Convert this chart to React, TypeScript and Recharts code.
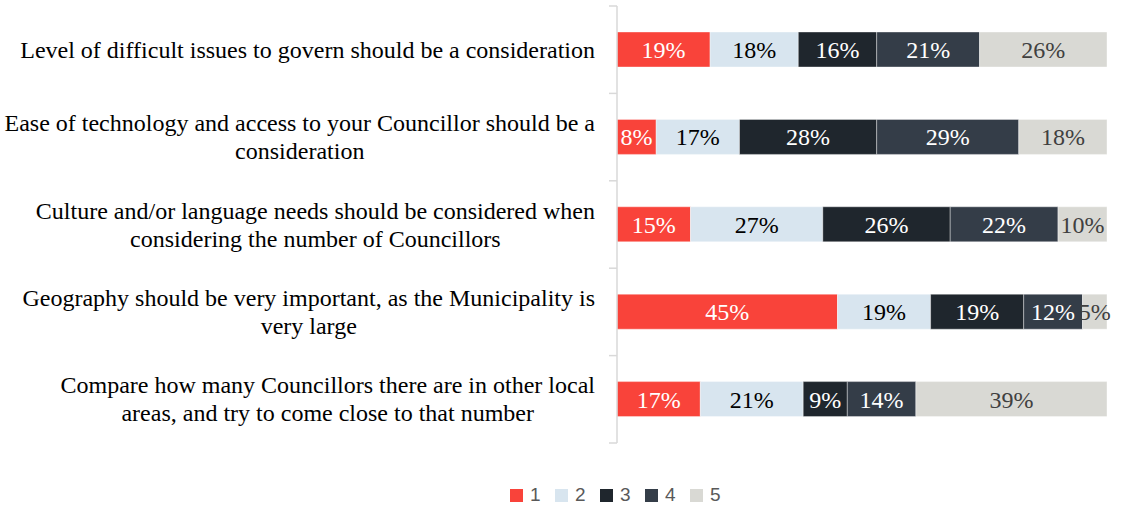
import React from 'react';
import { BarChart, Bar, XAxis, YAxis, LabelList } from 'recharts';

const categories = [
  'Level of difficult issues to govern should be a consideration',
  'Ease of technology and access to your Councillor should be a\nconsideration',
  'Culture and/or language needs should be considered when\nconsidering the number of Councillors',
  'Geography should be very important, as the Municipality is\nvery large',
  'Compare how many Councillors there are in other local\nareas, and try to come close to that number',
];
const series1 = [19, 8, 15, 45, 17];
const series2 = [18, 17, 27, 19, 21];
const series3 = [16, 28, 26, 19, 9];
const series4 = [21, 29, 22, 12, 14];
const series5 = [26, 18, 10, 5, 39];
const seriesNames = ['1', '2', '3', '4', '5'];
const seriesKeys = ['s1', 's2', 's3', 's4', 's5'];
const seriesColors = ['#F9433A', '#D8E5EF', '#1F262D', '#343D48', '#D9D9D4'];
const labelColors = ['#FFFFFF', '#000000', '#FFFFFF', '#FFFFFF', '#404040'];

const data = categories.map((name, i) => ({
  name,
  s1: series1[i],
  s2: series2[i],
  s3: series3[i],
  s4: series4[i],
  s5: series5[i],
}));

const W = 1123;
const H = 505;
const TOP = 6;
const BOTTOM = 443;
const AXIS_X = 617;
const RIGHT = 1107;
const BAND = (BOTTOM - TOP) / categories.length;
const LABEL_RIGHT = 595;
const LINE_H = 28;
const CAT_FONT_SIZE = 24;
const SERIF = '"Liberation Serif", "Times New Roman", serif';

let measureCtx: CanvasRenderingContext2D | null = null;
function measureText(text: string, size: number): number {
  if (!measureCtx) {
    const c = document.createElement('canvas');
    measureCtx = c.getContext('2d');
  }
  if (!measureCtx) return text.length * size * 0.45;
  measureCtx.font = `${size}px "Liberation Serif"`;
  return measureCtx.measureText(text).width;
}

const CategoryTick = (props: any) => {
  const { y, payload, index } = props;
  const lines = String(payload.value).split('\n');
  const blockW = Math.max(...lines.map((l) => measureText(l, CAT_FONT_SIZE)));
  const cx = LABEL_RIGHT - blockW / 2;
  const startY = y - ((lines.length - 1) * LINE_H) / 2;
  return (
    <g>
      <text x={cx} y={startY} textAnchor="middle" fontFamily={SERIF} fontSize={CAT_FONT_SIZE} fill="#000000">
        {lines.map((l, i) => (
          <tspan key={i} x={cx} y={startY + i * LINE_H} dy="0.34em">
            {l}
          </tspan>
        ))}
      </text>
      <line x1={AXIS_X - 8} x2={AXIS_X} y1={y - BAND / 2} y2={y - BAND / 2} stroke="#D9D9D9" strokeWidth={1.5} />
      {index === categories.length - 1 && (
        <line x1={AXIS_X - 8} x2={AXIS_X} y1={y + BAND / 2} y2={y + BAND / 2} stroke="#D9D9D9" strokeWidth={1.5} />
      )}
    </g>
  );
};

export default function App() {
  return (
    <div style={{ position: 'absolute', left: 0, top: 0, width: W, height: H, background: '#fff' }}>
      <BarChart
        width={W}
        height={H}
        data={data}
        layout="vertical"
        margin={{ top: TOP, right: W - RIGHT, bottom: H - BOTTOM, left: 0 }}
      >
        <XAxis type="number" domain={[0, 100]} hide />
        <YAxis
          type="category"
          dataKey="name"
          width={AXIS_X}
          axisLine={{ stroke: '#D9D9D9', strokeWidth: 1.5 }}
          tickLine={false}
          tick={<CategoryTick />}
          interval={0}
        />
        {seriesKeys.map((k, i) => (
          <Bar
            key={k}
            dataKey={k}
            name={seriesNames[i]}
            stackId="a"
            fill={seriesColors[i]}
            stroke="#FFFFFF"
            strokeOpacity={0.5}
            strokeWidth={0.75}
            barSize={35}
            isAnimationActive={false}
          >
            <LabelList
              dataKey={k}
              position="center"
              formatter={(v: any) => `${v}%`}
              fill={labelColors[i]}
              fontFamily={SERIF}
              fontSize={24}
            />
          </Bar>
        ))}
      </BarChart>
      <div
        style={{
          position: 'absolute',
          left: 510,
          top: 484,
          display: 'flex',
          alignItems: 'center',
          fontFamily: '"Liberation Sans", Arial, sans-serif',
          fontSize: 19,
          color: '#595959',
          lineHeight: '22px',
        }}
      >
        {seriesNames.map((n, i) => (
          <div key={n} style={{ display: 'flex', alignItems: 'center', width: 45 }}>
            <span style={{ display: 'inline-block', width: 13, height: 13, background: seriesColors[i], marginRight: 7 }} />
            <span>{n}</span>
          </div>
        ))}
      </div>
    </div>
  );
}
